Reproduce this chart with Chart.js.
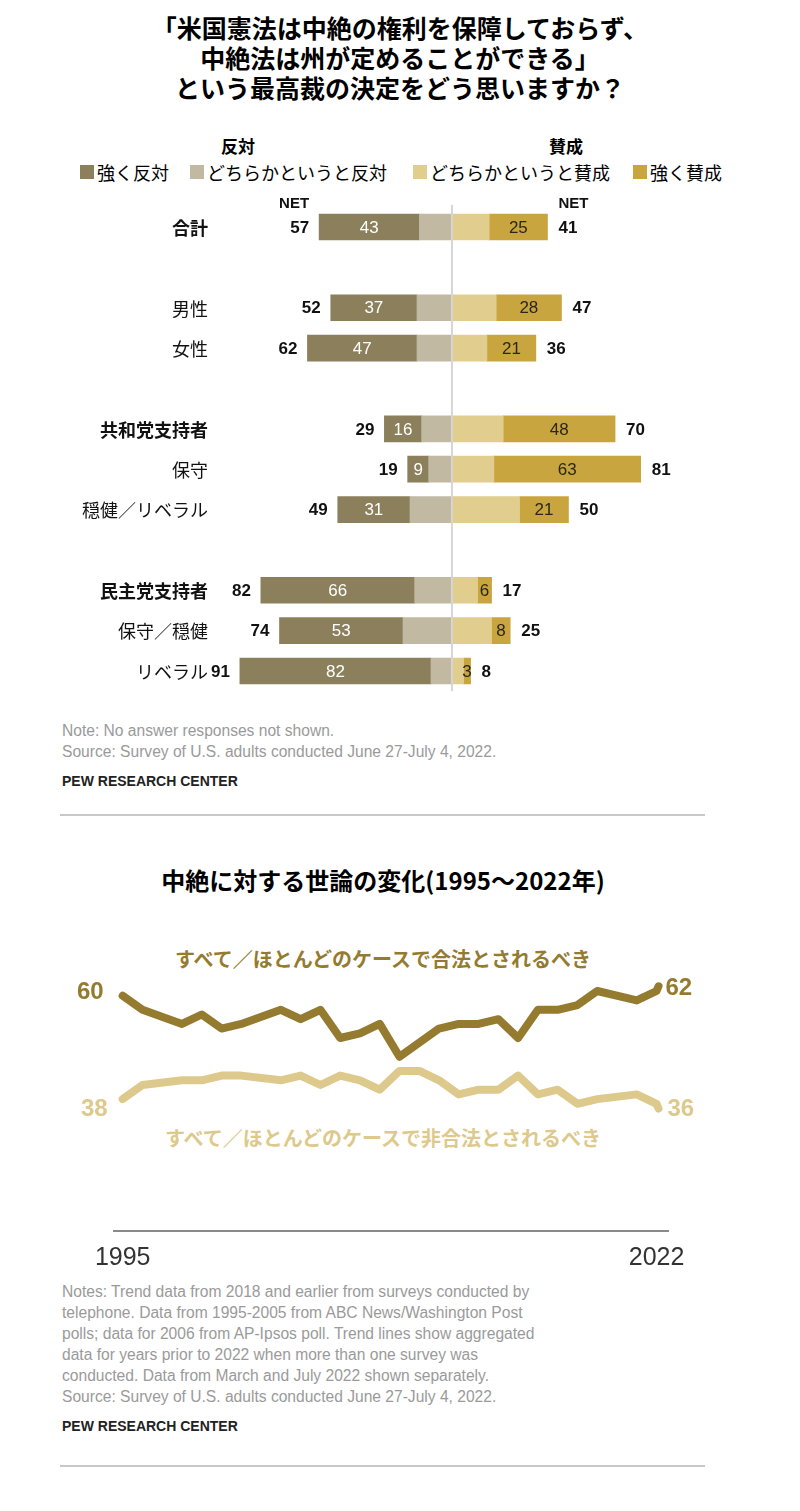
<!DOCTYPE html>
<html><head><meta charset="utf-8">
<script src="https://cdn.jsdelivr.net/npm/chart.js@4.4.1/dist/chart.umd.min.js"></script>
<style>
html,body{margin:0;padding:0;background:#fff;}
body{width:800px;height:1511px;position:relative;overflow:hidden;font-family:'Noto Sans CJK JP',sans-serif;color:#000;}
.abs{position:absolute;white-space:nowrap;}
.title{left:0;width:800px;top:12px;text-align:center;font-weight:bold;font-size:25px;line-height:30px;}
.hdr{font-weight:bold;font-size:17px;line-height:20px;top:136px;width:100px;text-align:center;}
.leg{top:162px;font-size:18px;line-height:20px;display:flex;align-items:center;}
.leg i{display:inline-block;width:14px;height:14px;margin-right:3px;}
.note{font-family:'Liberation Sans',Arial,sans-serif;font-size:15.6px;line-height:21px;color:#9a9a9a;left:62px;}
.pew{font-family:'Liberation Sans',Arial,sans-serif;font-size:14px;font-weight:bold;line-height:20px;color:#222;left:62px;}
.rule{left:60px;width:645px;height:0;border-top:2px solid #c8c8c8;}
.t2{left:83px;width:600px;text-align:center;top:865px;font-weight:bold;font-size:24px;line-height:30px;}
.slab{left:83px;width:600px;text-align:center;font-weight:bold;font-size:20px;line-height:24px;}
canvas{position:absolute;left:0;}
</style>
</head><body>
<div class="abs title">「米国憲法は中絶の権利を保障しておらず、<br>中絶法は州が定めることができる」<br>という最高裁の決定をどう思いますか？</div>
<div class="abs hdr" style="left:188px">反対</div>
<div class="abs hdr" style="left:516px">賛成</div>
<div id="legend"></div>
<canvas id="bars" width="800" height="520" style="top:190px"></canvas>
<div class="abs note" style="top:720px">Note: No answer responses not shown.<br>Source: Survey of U.S. adults conducted June 27-July 4, 2022.</div>
<div class="abs pew" style="top:771px">PEW RESEARCH CENTER</div>
<div class="abs rule" style="top:814px"></div>
<div class="abs t2">中絶に対する世論の変化(1995～2022年)</div>
<div class="abs slab" id="lab1" style="top:947px;color:#947B2F">すべて／ほとんどのケースで合法とされるべき</div>
<div class="abs slab" id="lab2" style="top:1126px;color:#DDC98B">すべて／ほとんどのケースで非合法とされるべき</div>
<canvas id="lines" width="800" height="350" style="top:930px"></canvas>
<div class="abs note" style="top:1281px">Notes: Trend data from 2018 and earlier from surveys conducted by<br>telephone. Data from 1995-2005 from ABC News/Washington Post<br>polls; data for 2006 from AP-Ipsos poll. Trend lines show aggregated<br>data for years prior to 2022 when more than one survey was<br>conducted. Data from March and July 2022 shown separately.<br>Source: Survey of U.S. adults conducted June 27-July 4, 2022.</div>
<div class="abs pew" style="top:1416px">PEW RESEARCH CENTER</div>
<div class="abs rule" style="top:1465px"></div>
<script>
// ---------- Bar chart data ----------
const groups = ['合計','','男性','女性','','共和党支持者','保守','穏健／リベラル','','民主党支持者','保守／穏健','リベラル'];
const boldGroups = ['合計','共和党支持者','民主党支持者'];
const strongOppose   = [43,null,37,47,null,16,9,31,null,66,53,82];
const somewhatOppose = [14,null,15,15,null,13,10,18,null,16,21,9];
const somewhatFavor  = [16,null,19,15,null,22,18,29,null,11,17,5];
const strongFavor    = [25,null,28,21,null,48,63,21,null,6,8,3];
const netOppose = [57,null,52,62,null,29,19,49,null,82,74,91];
const netFavor  = [41,null,47,36,null,70,81,50,null,17,25,8];
const seriesNames  = ['強く反対','どちらかというと反対','どちらかというと賛成','強く賛成'];
const seriesColors = ['#8C7F5C','#C1B9A1','#E1CD8E','#C9A540'];

// ---------- Line chart data ----------
const years   = [1995,1996,1998,1999,2000,2001,2003,2004,2005,2006,2007,2008,2009,2010,2011,2012,2013,2014,2015,2016,2017,2018,2019,2021,2022.0,2022.1];
const legal   = [60,57,54,56,53,54,57,55,57,51,52,54,47,null,53,54,54,55,51,57,57,58,61,59,61,62];
const illegal = [38,41,42,42,43,43,42,43,41,43,42,40,44,44,42,39,40,40,43,39,40,37,38,39,37,36];
const xTickLabels = [1995, 2022];
const lineNames  = ['すべて／ほとんどのケースで合法とされるべき','すべて／ほとんどのケースで非合法とされるべき'];
const lineColors = ['#947B2F','#DDC98B'];

const NUM = '"Liberation Sans", Arial, sans-serif';
const JP = '"Noto Sans CJK JP", sans-serif';

// legend
const legPos = [80,190,413,633];
const legEl = document.getElementById('legend');
seriesNames.forEach((n,i)=>{
  const d = document.createElement('div');
  d.className='abs leg'; d.style.left = legPos[i]+'px';
  d.innerHTML = '<i style="background:'+seriesColors[i]+'"></i>'+n;
  legEl.appendChild(d);
});

const neg = a => a.map(v => v==null ? null : -v);

const barLabels = {
  id:'barLabels',
  afterDatasetsDraw(chart){
    const {ctx, chartArea, scales:{x,y}} = chart;
    const x0 = x.getPixelForValue(0);
    ctx.save();
    ctx.strokeStyle='#d6d6d6'; ctx.lineWidth=2;
    ctx.beginPath(); ctx.moveTo(x0, chartArea.top-2); ctx.lineTo(x0, chartArea.bottom); ctx.stroke();
    ctx.textBaseline='middle';
    groups.forEach((g,i)=>{
      if(!g) return;
      const yy = y.getPixelForValue(i);
      ctx.fillStyle='#111'; ctx.textAlign='right';
      ctx.font = (boldGroups.includes(g)?'bold ':'')+'18px '+JP;
      ctx.fillText(g, chartArea.left-6, yy+1);
      ctx.font='bold 17px '+NUM;
      ctx.fillText(String(netOppose[i]), x.getPixelForValue(-netOppose[i])-10, yy+1);
      ctx.textAlign='left';
      ctx.fillText(String(netFavor[i]), x.getPixelForValue(netFavor[i])+11, yy+1);
    });
    // NET headers
    const y0 = y.getPixelForValue(0)-23;
    ctx.font='bold 15px '+NUM; ctx.fillStyle='#111';
    ctx.textAlign='right'; ctx.fillText('NET', x.getPixelForValue(-netOppose[0])-10, y0);
    ctx.textAlign='left'; ctx.fillText('NET', x.getPixelForValue(netFavor[0])+11, y0);
    // inside labels
    ctx.textAlign='center'; ctx.font='17px '+NUM;
    [[1, strongOppose, '#ffffff'],[3, strongFavor, '#2b2618']].forEach(([di, arr, col])=>{
      const meta = chart.getDatasetMeta(di);
      meta.data.forEach((el,i)=>{
        if(arr[i]==null) return;
        ctx.fillStyle = col;
        ctx.fillText(String(arr[i]), (el.x+el.base)/2, el.y+1);
      });
    });
    ctx.restore();
  }
};

new Chart(document.getElementById('bars'), {
  type:'bar',
  data:{
    labels: groups,
    datasets:[
      {label:seriesNames[1], data:neg(somewhatOppose), backgroundColor:seriesColors[1]},
      {label:seriesNames[0], data:neg(strongOppose),   backgroundColor:seriesColors[0]},
      {label:seriesNames[2], data:somewhatFavor,       backgroundColor:seriesColors[2]},
      {label:seriesNames[3], data:strongFavor,         backgroundColor:seriesColors[3]}
    ]
  },
  options:{
    indexAxis:'y', responsive:false, animation:false,
    layout:{padding:{left:214,right:60,top:16.8,bottom:18.8}},
    datasets:{bar:{barThickness:26}},
    scales:{
      x:{stacked:true, min:-102.1, max:123.6, display:false},
      y:{stacked:true, display:false}
    },
    plugins:{legend:{display:false}, tooltip:{enabled:false}}
  },
  plugins:[barLabels]
});

const endLabels = {
  id:'endLabels',
  afterDatasetsDraw(chart){
    const {ctx} = chart;
    ctx.save();
    ctx.font='bold 24px '+NUM; ctx.textBaseline='middle';
    const specs = [[0, legal, -3, 2], [1, illegal, 10, 1]];
    specs.forEach(([di, arr, dyStart, dyEnd])=>{
      const pts = chart.getDatasetMeta(di).data;
      const first = pts[0], last = pts[pts.length-1];
      ctx.fillStyle = lineColors[di];
      ctx.textAlign='right';
      ctx.fillText(String(arr[0]), first.x-(di===0?19:15), first.y+dyStart);
      ctx.textAlign='left';
      ctx.fillText(String(arr[arr.length-1]), last.x+(di===0?7:9), last.y+dyEnd);
    });
    ctx.restore();
  }
};

new Chart(document.getElementById('lines'), {
  type:'line',
  data:{
    datasets:[
      {label:lineNames[0], data:years.map((yr,i)=>({x:yr,y:legal[i]})), borderColor:lineColors[0], borderWidth:8, pointRadius:0, tension:0, spanGaps:true, borderJoinStyle:'round', borderCapStyle:'round'},
      {label:lineNames[1], data:years.map((yr,i)=>({x:yr,y:illegal[i]})), borderColor:lineColors[1], borderWidth:8, pointRadius:0, tension:0, spanGaps:true, borderJoinStyle:'round', borderCapStyle:'round'}
    ]
  },
  options:{
    responsive:false, animation:false,
    layout:{padding:{left:114,right:132,top:18.7,bottom:9.3}},
    scales:{
      x:{type:'linear', min:1994.56, max:2022.58,
         grid:{display:false, drawTicks:false},
         border:{display:true, color:'#8a8a8a', width:2},
         afterBuildTicks:s=>{ s.ticks = xTickLabels.map(v=>({value:v})); },
         afterFit:s=>{ s.height = 40; },
         ticks:{font:{family:NUM, size:25}, color:'#333', padding:12, maxRotation:0, autoSkip:false, callback:v=>String(v)}
      },
      y:{min:10, max:70, display:false}
    },
    plugins:{legend:{display:false}, tooltip:{enabled:false}}
  },
  plugins:[endLabels]
});
</script>
</body></html>
